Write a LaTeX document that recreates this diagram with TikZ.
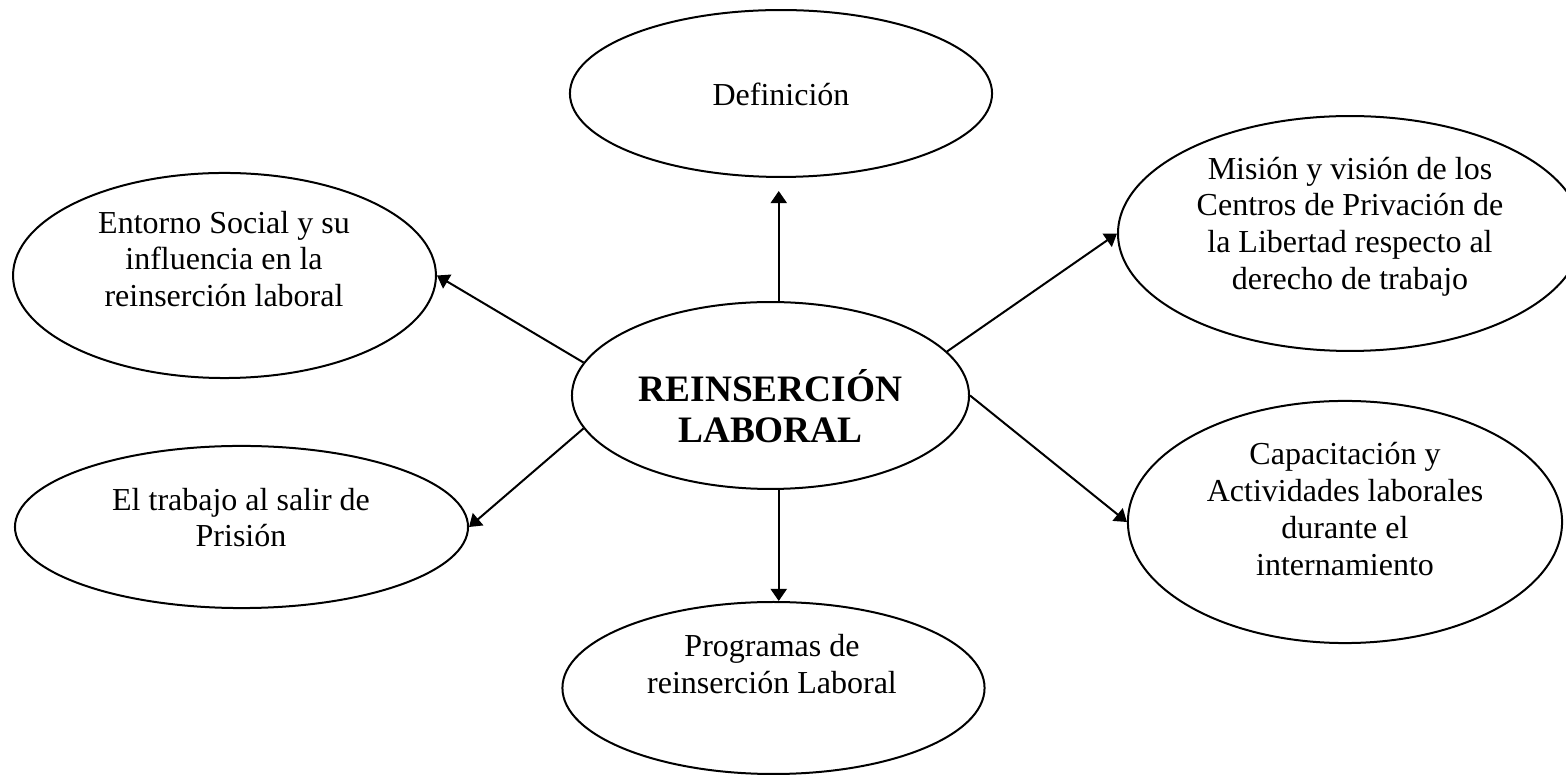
\documentclass[tikz,border=0pt]{standalone}
\usepackage{fontspec}
\setmainfont{Liberation Serif}
\usetikzlibrary{shapes.geometric,arrows.meta}

\begin{document}
\begin{tikzpicture}[x=0.375pt,y=-0.375pt,
    oval/.style={draw,ellipse,line width=0.75pt,inner sep=0pt},
    txt/.style={align=center,inner sep=0pt,font=\fontsize{12}{13.8}\selectfont},
    bigtxt/.style={align=center,inner sep=0pt,font=\fontsize{14}{15.6}\selectfont\bfseries},
    link/.style={line width=0.75pt,-{Triangle[width=6pt,length=4.5pt]}}]

    % Page frame of the reference
    \useasboundingbox (0,0) rectangle (1566,776);

    % The ellipses
    \node[oval,minimum width=148.9pt,minimum height=70.1pt] (cen) at (770.5,395.5) {};
    \node[oval,minimum width=158.3pt,minimum height=62.6pt] (def) at (781,93.5) {};
    \node[oval,minimum width=158.6pt,minimum height=76.9pt] (ent) at (224.5,275.5) {};
    \node[oval,minimum width=174pt,minimum height=88.1pt] (mis) at (1350,233.5) {};
    \node[oval,minimum width=162.8pt,minimum height=90.8pt] (cap) at (1345,522) {};
    \node[oval,minimum width=169.9pt,minimum height=60.8pt] (trab) at (241.5,527) {};
    \node[oval,minimum width=158.3pt,minimum height=64.5pt] (prog) at (773.5,688) {};

    % Texts, set a little off the centres as in the picture
    \node[bigtxt] (cenT) at (770.5,406) {REINSERCIÓN\\LABORAL};
    \node[txt] (defT) at (781,94) {Definición};
    \node[txt] (entT) at (224,259) {Entorno Social y su\\influencia en la\\reinserción laboral};
    \node[txt] (misT) at (1350,226.5) {Misión y visión de los\\Centros de Privación de\\la Libertad respecto al\\derecho de trabajo};
    \node[txt] (capT) at (1345,509) {Capacitación y\\Actividades laborales\\durante el\\internamiento};
    \node[txt] (trabT) at (241,517.5) {El trabajo al salir de\\Prisión};
    \node[txt] (progT) at (772,664) {Programas de\\reinserción Laboral};

    % Arrows out of the centre
    \draw[link,shorten >=4.9pt] (cen.85) -- (cen.85 |- def.south);
    \draw[link] (cen.170) -- (ent.east);
    \draw[link] (cen.14) -- (mis.west);
    \draw[link] (cen.east) -- (cap.west);
    \draw[link] (cen.190) -- (trab.east);
    \draw[link] (cen.275) -- (cen.275 |- prog.north);

\end{tikzpicture}
\end{document}
